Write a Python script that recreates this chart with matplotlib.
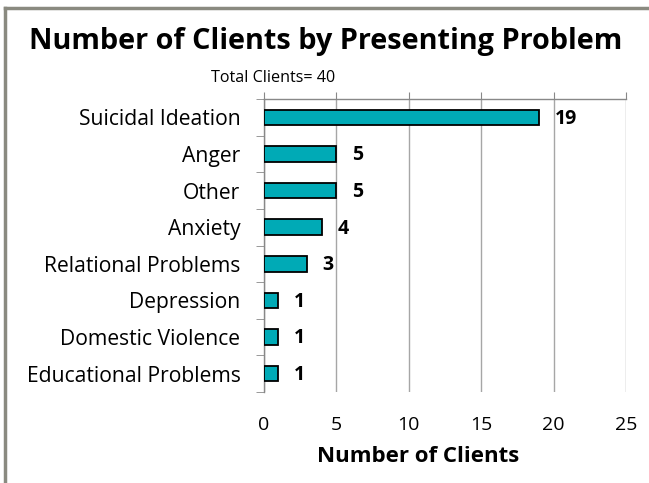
import matplotlib
matplotlib.use("Agg")
import matplotlib.pyplot as plt
from matplotlib.lines import Line2D
from matplotlib.ticker import FixedLocator

plt.rcParams['font.family'] = ['Open Sans', 'DejaVu Sans']

# data
categories = ["Suicidal Ideation", "Anger", "Other", "Anxiety",
              "Relational Problems", "Depression", "Domestic Violence",
              "Educational Problems"]
clients = [19, 5, 5, 4, 3, 1, 1, 1]
x_ticks = [0, 5, 10, 15, 20, 25]

W, H = 649, 483
fig = plt.figure(figsize=(W / 100, H / 100), dpi=100)
ax = fig.add_axes([264 / W, 1 - 392 / H, (626 - 264) / W, (392 - 99) / H])

pos = list(range(len(categories)))
ax.barh(pos, clients, height=0.42, color='#00aab6', edgecolor='black',
        linewidth=1.3, zorder=3)

for p, v in zip(pos, clients):
    ax.annotate(str(v), (v, p), xytext=(11, -1), textcoords='offset points',
                ha='left', va='center', fontsize=14, fontweight='bold')

ax.set_xlim(0, 25)
ax.set_ylim(len(categories) - 0.5, -0.5)

# value axis sits on top, labels at the bottom
ax.xaxis.set_ticks_position('top')
ax.set_xticks(x_ticks)
ax.tick_params(axis='x', which='major', direction='out', length=5,
               color='#888888', labeltop=False, labelbottom=True,
               labelsize=14, pad=12)
ax.grid(axis='x', color='#a6a6a6', linewidth=1, zorder=0)

ax.set_yticks(pos)
ax.set_yticklabels(categories)
ax.yaxis.set_minor_locator(FixedLocator([i - 0.5 for i in range(len(categories) + 1)]))
ax.tick_params(axis='y', which='major', length=0, labelsize=15.2, pad=17)
ax.tick_params(axis='y', which='minor', length=6, color='#888888')

for s in ['right', 'bottom']:
    ax.spines[s].set_visible(False)
for s in ['top', 'left']:
    ax.spines[s].set_color('#888888')
    ax.spines[s].set_linewidth(1)

fig.text(326 / W, 1 - 41 / H, "Number of Clients by Presenting Problem",
         ha='center', va='center', fontsize=20.8, fontweight='bold')
fig.text(273 / W, 1 - 78 / H, "Total Clients= 40", ha='center', va='center',
         fontsize=11.6)
fig.text(418 / W, 1 - 457 / H, "Number of Clients", ha='center', va='center',
         fontsize=16, fontweight='bold')

# outer chart border (left and top only)
fig.add_artist(Line2D([5 / W, 5 / W], [0, 1 - 8 / H], color='#8a8a80', lw=2.5,
                      transform=fig.transFigure))
fig.add_artist(Line2D([5 / W, 1], [1 - 8 / H, 1 - 8 / H], color='#8a8a80', lw=2.5,
                      transform=fig.transFigure))

fig.savefig("out.png", dpi=100)
